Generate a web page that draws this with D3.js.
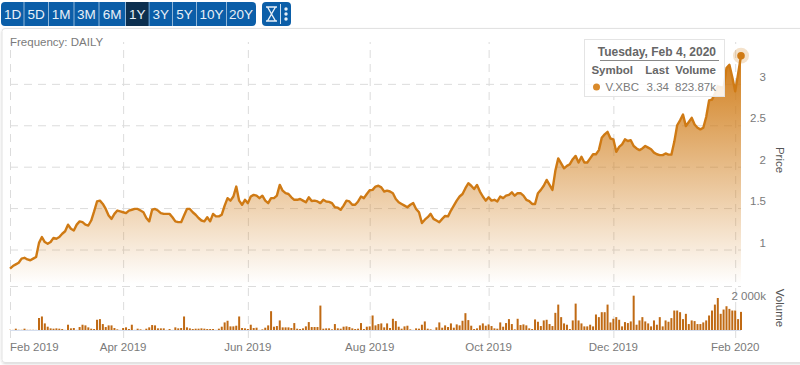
<!DOCTYPE html>
<html>
<head>
<meta charset="utf-8">
<script src="https://cdn.jsdelivr.net/npm/d3@7"></script>
<style>
    html, body { margin: 0; padding: 0; background: #fff; overflow: hidden; }
    text { font-family: "Liberation Sans", Arial, sans-serif; }
    .grid line { stroke: #dcdcdc; stroke-dasharray: 8 6; }
    .grid path { display: none; }
    .lbl { fill: #7a7a7a; font-size: 11.5px; }
</style>
</head>
<body>
<div id="chart"></div>
<script>
// toolbar
var ranges = ['1D', '5D', '1M', '3M', '6M', '1Y', '3Y', '5Y', '10Y', '20Y'];
var rangeEdges = [2, 24.5, 49, 74.5, 99.5, 126, 149.5, 173, 197, 227, 256];

// one value per trading day, Feb 4 2019 to Feb 4 2020
var price = [
    0.77, 0.80, 0.82, 0.84, 0.89, 0.90, 0.88, 0.87, 0.89, 0.91,
    1.08, 1.15, 1.09, 1.07, 1.09, 1.14, 1.13, 1.15, 1.19, 1.22,
    1.30, 1.25, 1.23, 1.30, 1.34, 1.33, 1.30, 1.29, 1.35, 1.46,
    1.58, 1.59, 1.55, 1.49, 1.41, 1.37, 1.43, 1.47, 1.46, 1.45,
    1.44, 1.47, 1.48, 1.49, 1.49, 1.47, 1.45, 1.38, 1.34, 1.48,
    1.49, 1.47, 1.44, 1.43, 1.43, 1.43, 1.39, 1.34, 1.33, 1.33,
    1.41, 1.49, 1.49, 1.45, 1.42, 1.38, 1.35, 1.34, 1.39, 1.34,
    1.43, 1.40, 1.40, 1.42, 1.53, 1.62, 1.59, 1.64, 1.76, 1.59,
    1.54, 1.60, 1.56, 1.64, 1.66, 1.65, 1.62, 1.65, 1.59, 1.56,
    1.62, 1.62, 1.65, 1.78, 1.71, 1.68, 1.67, 1.63, 1.60, 1.60,
    1.61, 1.59, 1.57, 1.63, 1.585, 1.59, 1.58, 1.56, 1.60, 1.58,
    1.575, 1.56, 1.51, 1.505, 1.48, 1.53, 1.59, 1.58, 1.54, 1.54,
    1.58, 1.64, 1.62, 1.67, 1.715, 1.72, 1.76, 1.77, 1.75, 1.70,
    1.71, 1.70, 1.68, 1.61, 1.57, 1.55, 1.53, 1.51, 1.54, 1.56,
    1.49, 1.45, 1.32, 1.36, 1.39, 1.43, 1.37, 1.35, 1.33, 1.37,
    1.405, 1.40, 1.47, 1.53, 1.59, 1.64, 1.67, 1.74, 1.80, 1.77,
    1.73, 1.78, 1.70, 1.64, 1.59, 1.63, 1.59, 1.60, 1.58, 1.64,
    1.62, 1.65, 1.66, 1.69, 1.65, 1.68, 1.68, 1.65, 1.60, 1.585,
    1.55, 1.55, 1.68, 1.72, 1.77, 1.84, 1.78, 1.72, 1.95, 2.10,
    2.04, 1.98, 2.01, 2.03, 2.09, 2.13, 2.05, 2.12, 2.05, 2.05,
    2.10, 2.15, 2.15, 2.20, 2.35, 2.39, 2.42, 2.34, 2.33, 2.18,
    2.24, 2.27, 2.33, 2.31, 2.32, 2.25, 2.22, 2.20, 2.22, 2.25,
    2.23, 2.21, 2.17, 2.15, 2.14, 2.14, 2.16, 2.145, 2.145, 2.30,
    2.50, 2.56, 2.63, 2.49, 2.54, 2.59, 2.51, 2.47, 2.45, 2.47,
    2.60, 2.80, 2.81, 2.88, 2.97, 2.96, 2.95, 3.19, 3.23, 3.08,
    2.91, 3.12, 3.34
];

// thousands of shares
var volume = [
    10, 5, 60, 10, 10, 60, 10, 10, 10, 5,
    545, 615, 300, 150, 75, 60, 75, 60, 45, 5,
    240, 75, 90, 5, 135, 240, 210, 120, 60, 45,
    465, 495, 270, 135, 210, 210, 90, 30, 5, 90,
    120, 45, 240, 5, 60, 30, 5, 60, 120, 225,
    210, 75, 75, 75, 5, 45, 5, 120, 75, 90,
    615, 120, 75, 45, 60, 60, 75, 60, 45, 45,
    45, 5, 60, 150, 345, 420, 165, 165, 195, 615,
    90, 75, 45, 240, 90, 105, 5, 30, 105, 210,
    855, 150, 180, 435, 120, 120, 120, 90, 315, 60,
    45, 75, 165, 360, 135, 135, 135, 1110, 60, 75,
    75, 30, 270, 75, 60, 150, 165, 135, 75, 45,
    60, 315, 45, 150, 165, 660, 210, 270, 300, 120,
    300, 90, 510, 405, 150, 60, 165, 195, 30, 5,
    75, 60, 240, 390, 60, 30, 5, 120, 345, 105,
    210, 135, 300, 105, 255, 210, 420, 765, 450, 195,
    45, 75, 210, 300, 195, 255, 180, 75, 60, 345,
    150, 315, 495, 270, 30, 510, 225, 255, 210, 75,
    45, 480, 375, 180, 435, 465, 270, 180, 780, 1155,
    585, 300, 240, 45, 435, 1200, 435, 300, 165, 165,
    240, 165, 705, 585, 810, 810, 1155, 345, 510, 585,
    465, 165, 360, 315, 390, 1560, 240, 435, 585, 390,
    300, 165, 435, 240, 585, 165, 435, 375, 540, 885,
    885, 810, 495, 735, 270, 435, 405, 270, 270, 345,
    435, 660, 885, 1155, 1455, 735, 930, 1080, 960, 885,
    885, 495, 823.87
];

var monthLabels = ['Feb 2019', 'Apr 2019', 'Jun 2019', 'Aug 2019', 'Oct 2019', 'Dec 2019', 'Feb 2020'];
var monthIndex = [0, 39, 82, 124, 165, 208, 250];
var priceTicks = [1, 1.5, 2, 2.5, 3];
var volumeTicks = [2000];

var tipDate = 'Tuesday, Feb 4, 2020';
var tipHead = ['Symbol', 'Last', 'Volume'];
var tipRow = ['V.XBC', '3.34', '823.87k'];

var width = 800, height = 365,
    orange = '#cf7a14';

var xScale = d3.scaleLinear().domain([0, 252]).range([10, 741]),
    yScale = d3.scaleLinear().domain([1, 3.34]).range([249.5, 55.7]),
    vScale = d3.scaleLinear().domain([0, 2000]).range([330, 286]);

var svg = d3.select('#chart').append('svg')
    .attr('width', width)
    .attr('height', height);

var defs = svg.append('defs');

var grad = defs.append('linearGradient')
    .attr('id', 'fade')
    .attr('gradientUnits', 'userSpaceOnUse')
    .attr('x1', 0).attr('x2', 0)
    .attr('y1', yScale(3.34)).attr('y2', 284);
grad.append('stop').attr('offset', 0).attr('stop-color', '#d07c18');
grad.append('stop').attr('offset', 1).attr('stop-color', '#d07c18').attr('stop-opacity', 0);

defs.append('filter').attr('id', 'soft')
    .append('feDropShadow')
    .attr('dx', 0).attr('dy', 1).attr('stdDeviation', 1.2)
    .attr('flood-color', '#000').attr('flood-opacity', 0.16);

// panel
svg.append('rect')
    .attr('x', 2).attr('y', 28.5)
    .attr('width', 830).attr('height', 334)
    .attr('rx', 3)
    .attr('fill', '#fff')
    .attr('stroke', '#e2e2e2')
    .attr('filter', 'url(#soft)');

// toolbar buttons
var bar = svg.append('g').attr('class', 'toolbar');

bar.append('rect')
    .attr('x', 1).attr('y', 2)
    .attr('width', 255).attr('height', 24)
    .attr('rx', 4)
    .attr('fill', '#0b5ea8');

bar.selectAll('line')
    .data(rangeEdges.slice(1, -1))
    .enter().append('line')
    .attr('x1', function (d) { return d - 0.5; })
    .attr('x2', function (d) { return d - 0.5; })
    .attr('y1', 2).attr('y2', 26)
    .attr('stroke', '#8fb6d8');

bar.selectAll('rect.range')
    .data(ranges.filter(function (d) { return d === '1Y'; }))
    .enter().append('rect')
    .attr('class', 'range')
    .attr('x', rangeEdges[ranges.indexOf('1Y')])
    .attr('y', 2)
    .attr('width', rangeEdges[ranges.indexOf('1Y') + 1] - rangeEdges[ranges.indexOf('1Y')] - 1)
    .attr('height', 24)
    .attr('fill', '#0c2f4f');

bar.selectAll('text')
    .data(ranges)
    .enter().append('text')
    .attr('x', function (d, i) { return (rangeEdges[i] + rangeEdges[i + 1] - 1) / 2; })
    .attr('y', 19)
    .attr('text-anchor', 'middle')
    .attr('fill', '#e8f0f7')
    .attr('font-size', 13.5)
    .text(function (d) { return d; });

bar.append('rect')
    .attr('x', 262).attr('y', 2)
    .attr('width', 29).attr('height', 24)
    .attr('rx', 4)
    .attr('fill', '#0b5ea8');

bar.append('path')
    .attr('d', 'M266 7h11M266 21h11M267.5 7l8 14M275.5 7l-8 14')
    .attr('fill', 'none')
    .attr('stroke', '#e8f0f7')
    .attr('stroke-width', 1.4);

bar.append('line')
    .attr('x1', 280.5).attr('x2', 280.5)
    .attr('y1', 4).attr('y2', 24)
    .attr('stroke', '#cfe0ef');

bar.selectAll('circle')
    .data([9, 14, 19])
    .enter().append('circle')
    .attr('cx', 286)
    .attr('cy', function (d) { return d; })
    .attr('r', 1.7)
    .attr('fill', '#e8f0f7');

// frequency note
svg.append('text')
    .attr('class', 'lbl')
    .attr('x', 10).attr('y', 46)
    .text('Frequency: DAILY');

// vertical grid, running through both panes
var xGrid = d3.axisBottom(xScale)
    .tickValues(monthIndex)
    .tickSize(-296)
    .tickFormat('');

svg.append('g')
    .attr('class', 'grid')
    .attr('transform', 'translate(0,338)')
    .call(xGrid);

// horizontal grid
var yGrid = d3.axisRight(yScale)
    .tickValues(priceTicks)
    .tickSize(731)
    .tickFormat('');

svg.append('g')
    .attr('class', 'grid')
    .attr('transform', 'translate(10,0)')
    .call(yGrid);

var vGrid = d3.axisRight(vScale)
    .tickValues(volumeTicks)
    .tickSize(731)
    .tickFormat('');

svg.append('g')
    .attr('class', 'grid')
    .attr('transform', 'translate(10,0)')
    .call(vGrid);

// price area and line
var area = d3.area()
    .x(function (d, i) { return xScale(i); })
    .y0(284)
    .y1(function (d) { return yScale(d); });

var line = d3.line()
    .x(function (d, i) { return xScale(i); })
    .y(function (d) { return yScale(d); });

svg.append('path')
    .datum(price)
    .attr('fill', 'url(#fade)')
    .attr('d', area);

svg.append('path')
    .datum(price)
    .attr('fill', 'none')
    .attr('stroke', orange)
    .attr('stroke-width', 2.4)
    .attr('stroke-linejoin', 'round')
    .attr('d', line);

// volume bars
svg.append('line')
    .attr('x1', 10).attr('x2', 741)
    .attr('y1', vScale(0) + 0.5).attr('y2', vScale(0) + 0.5)
    .attr('stroke', '#d5deee');

svg.append('g')
    .selectAll('rect')
    .data(volume)
    .enter().append('rect')
    .attr('x', function (d, i) { return xScale(i) - 1; })
    .attr('y', function (d) { return vScale(d); })
    .attr('width', 2)
    .attr('height', function (d) { return vScale(0) - vScale(d); })
    .attr('fill', '#c06a14');

// x labels: first one starts at the plot edge, last one is centred on its tick
svg.append('g')
    .selectAll('text')
    .data(monthLabels)
    .enter().append('text')
    .attr('class', 'lbl')
    .attr('x', function (d, i) { return xScale(monthIndex[i]); })
    .attr('y', 351)
    .attr('text-anchor', function (d, i) { return i === 0 ? 'start' : 'middle'; })
    .text(function (d) { return d; });

// price axis labels sit just above their gridlines
var yAxis = d3.axisRight(yScale)
    .tickValues(priceTicks)
    .tickSize(0)
    .tickFormat(function (d) { return d; });

var yg = svg.append('g')
    .attr('transform', 'translate(766,0)')
    .call(yAxis);
yg.select('.domain').remove();
yg.selectAll('text')
    .attr('class', 'lbl')
    .attr('x', 0)
    .attr('dy', '-0.3em')
    .attr('text-anchor', 'end')
    .style('font-size', '11.5px')
    .style('font-family', '"Liberation Sans", Arial, sans-serif');

svg.append('text')
    .attr('class', 'lbl')
    .attr('x', 766)
    .attr('y', vScale(2000) + 14)
    .attr('text-anchor', 'end')
    .text('2 000k');

// axis titles read top to bottom
[['Price', 160], ['Volume', 308]].forEach(function (t) {
    svg.append('text')
        .attr('transform', 'translate(776,' + t[1] + ') rotate(90)')
        .attr('text-anchor', 'middle')
        .attr('fill', '#555')
        .attr('font-size', 11.5)
        .text(t[0]);
});

// tooltip
var tip = svg.append('g').attr('class', 'tip');

tip.append('rect')
    .attr('x', 584.5).attr('y', 39.5)
    .attr('width', 140).attr('height', 57)
    .attr('fill', '#fff')
    .attr('fill-opacity', 0.88)
    .attr('stroke', '#e4e4e4');

tip.append('text')
    .attr('x', 716).attr('y', 56)
    .attr('text-anchor', 'end')
    .attr('fill', '#666')
    .attr('font-size', 12)
    .attr('font-weight', 'bold')
    .text(tipDate);

tip.append('line')
    .attr('x1', 600).attr('x2', 719)
    .attr('y1', 60.5).attr('y2', 60.5)
    .attr('stroke', '#888');

var tipCols = [633, 669, 716];

tip.selectAll('text.head')
    .data(tipHead)
    .enter().append('text')
    .attr('class', 'head')
    .attr('x', function (d, i) { return tipCols[i]; })
    .attr('y', 74)
    .attr('text-anchor', 'end')
    .attr('fill', '#666')
    .attr('font-size', 11.5)
    .attr('font-weight', 'bold')
    .text(function (d) { return d; });

tip.selectAll('text.row')
    .data(tipRow)
    .enter().append('text')
    .attr('class', 'row')
    .attr('x', function (d, i) { return tipCols[i] + (i === 0 ? 6 : 0); })
    .attr('y', 91)
    .attr('text-anchor', 'end')
    .attr('fill', '#7a7a7a')
    .attr('font-size', 11.5)
    .text(function (d) { return d; });

tip.append('circle')
    .attr('cx', 596.5).attr('cy', 87)
    .attr('r', 3.5)
    .attr('fill', '#d98a2b');

// hover marker on the last point
var last = price.length - 1;

svg.append('circle')
    .attr('cx', xScale(last)).attr('cy', yScale(price[last]))
    .attr('r', 8)
    .attr('fill', orange)
    .attr('fill-opacity', 0.22);

svg.append('circle')
    .attr('cx', xScale(last)).attr('cy', yScale(price[last]))
    .attr('r', 3.8)
    .attr('fill', orange);
</script>
</body>
</html>
